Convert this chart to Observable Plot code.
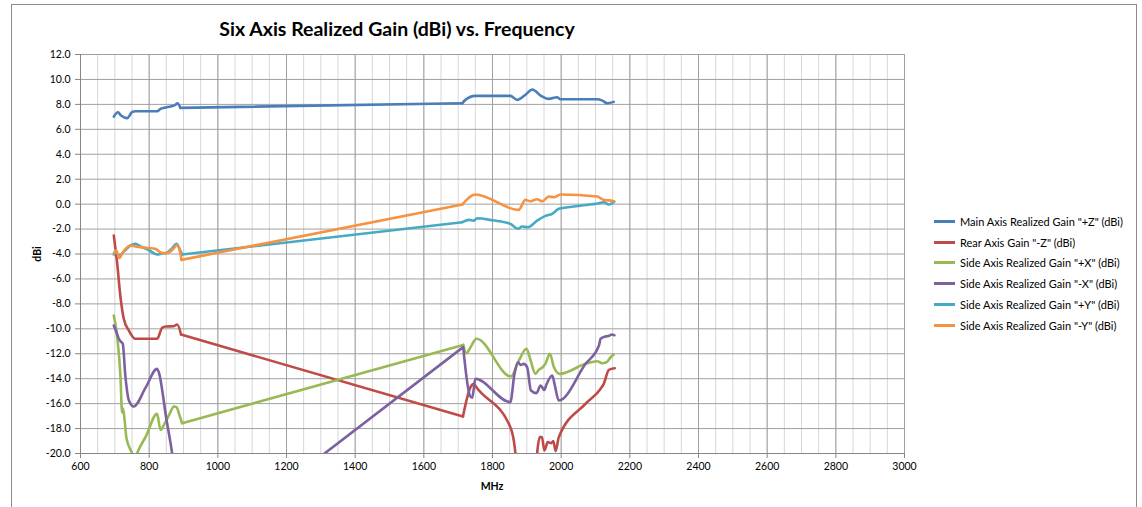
<!DOCTYPE html>
<html>
<head>
<meta charset="utf-8">
<script src="https://cdn.jsdelivr.net/npm/d3@7"></script>
<script src="https://cdn.jsdelivr.net/npm/@observablehq/plot@0.6"></script>
<style>
  body { margin: 0; background: #fff; }
  #wrap { position: relative; width: 1142px; height: 507px; overflow: hidden; font-family: Lato, "Open Sans", sans-serif; }
  #frame { position: absolute; left: 11px; top: 4px; width: 1126px; height: 540px; border: 1px solid #8c8c8c; box-sizing: border-box; }
  #chart { position: absolute; left: 0; top: 0; }
  #title { position: absolute; left: 0; width: 794px; top: 17px; text-align: center; font-weight: bold; font-size: 19.5px; color: #000; }
  #xlab { position: absolute; left: 392px; width: 200px; top: 480px; text-align: center; font-weight: bold; font-size: 10.5px; }
  #ylab { position: absolute; left: 37px; top: 254px; transform: translate(-50%,-50%) rotate(-90deg); font-weight: bold; font-size: 10.5px; }
  #legend { position: absolute; left: 934px; top: 211px; font-size: 11px; color: #000; }
  .row { height: 20.8px; display: flex; align-items: center; white-space: nowrap; }
  .sw { width: 21px; height: 3px; margin-right: 5px; }
</style>
</head>
<body>
<div id="wrap">
  <div id="frame"></div>
  <div id="chart"></div>
  <div id="title">Six Axis Realized Gain (dBi) vs. Frequency</div>
  <div id="xlab">MHz</div>
  <div id="ylab">dBi</div>
  <div id="legend"></div>
</div>
<script>
// ---- data (MHz, dBi) ----
const seriesNames = [
  'Main Axis Realized Gain "+Z" (dBi)',
  'Rear Axis Gain "-Z" (dBi)',
  'Side Axis Realized Gain "+X" (dBi)',
  'Side Axis Realized Gain "-X" (dBi)',
  'Side Axis Realized Gain "+Y" (dBi)',
  'Side Axis Realized Gain "-Y" (dBi)'
];
const seriesColors = ["#4A7EBB", "#BE4B48", "#98B954", "#7D60A0", "#46AAC5", "#F69240"];

const zPlusFreq = [697,709,718,736,750,760,790,823,833,848,862,876,882,891, 1712,1721,1750,1800,1852,1872,1895,1916,1940,1964,1988,1998,2050,2105,2120,2134,2153];
const zPlusGain = [7.02,7.37,7.1,6.9,7.37,7.45,7.45,7.45,7.64,7.75,7.83,7.95,8.09,7.72, 8.09,8.36,8.68,8.68,8.68,8.36,8.75,9.19,8.71,8.44,8.57,8.41,8.41,8.41,8.3,8.09,8.2];

const zMinusFreq = [697,707,716.5,726,741,760,790,823,838,848,872,881.6,893, 1714,1736,1746,1753,1852,1862,1867,1885,1905,1925,1930,1938,1944,1951,1961,1971,1977,1984,1993,2071,2115,2124,2139,2156];
const zMinusGain = [-2.52,-4.79,-7.47,-9.2,-10.14,-10.8,-10.8,-10.8,-9.92,-9.82,-9.79,-9.65,-10.46, -17.03,-14.68,-14.41,-14.68,-17.89,-18.96,-20.0,-23,-25,-22,-20.0,-18.69,-18.69,-19.76,-19.09,-19.17,-19.0,-19.81,-18.69,-16.01,-14.81,-14.41,-13.29,-13.16];

const xPlusFreq = [697,707,716.5,721,724,728,734,750,757,765,790,823,833,845,860,872,880,888,896, 1714.6,1724,1736,1753,1854,1877,1899,1911,1925,1935,1945,1954,1967,1979,1996,2071,2105,2119,2132,2144,2153];
const xPlusGain = [-8.93,-10.67,-13.88,-16.7,-16.4,-17.2,-18.8,-19.97,-20.6,-19.97,-18.65,-16.82,-18.1,-17.6,-16.8,-16.23,-16.3,-16.9,-17.57, -11.29,-11.96,-11.47,-10.8,-13.82,-12.54,-11.6,-12.54,-13.61,-13.29,-13.1,-12.81,-12.0,-13.08,-13.61,-12.81,-12.6,-12.76,-12.68,-12.28,-12.06];

const xMinusFreq = [697,705,711.6,719,723,731,741,755,790,823,828,850,867,880,894, 1714.6,1734,1741,1750,1852,1864,1874,1882,1891,1901,1912,1928,1940,1951,1957,1974,1982,1993,2071,2110,2115,2129,2140,2148,2155];
const xMinusGain = [-9.74,-10.3,-10.8,-11.07,-11.2,-13.88,-15.75,-16.23,-14.7,-13.21,-13.48,-17.2,-20.02,-23,-28.8, -11.47,-15.35,-15.53,-14.01,-15.88,-13.61,-12.68,-12.9,-12.81,-13.08,-14.95,-15.16,-14.55,-14.9,-14.47,-13.74,-14.6,-15.75,-12.81,-11.34,-10.8,-10.62,-10.55,-10.46,-10.51];

const yPlusFreq = [697,703,713,730,746,760,775,800,823,838,850,865,880,887,896, 1712,1731,1746,1755,1800,1852,1874,1886,1903,1930,1954,1974,1993,2050,2110,2124,2139,2155];
const yPlusGain = [-4.04,-3.9,-4.1,-3.7,-3.3,-3.19,-3.4,-3.7,-4.04,-3.95,-3.92,-3.6,-3.19,-3.5,-4.04, -1.45,-1.26,-1.32,-1.13,-1.3,-1.58,-1.98,-1.8,-1.85,-1.32,-0.94,-0.78,-0.38,-0.15,0.07,0.15,-0.03,0.21];

const yMinusFreq = [697,704,713,725,746,760,790,818,838,855,870,880,888,894, 1712,1750,1876,1896,1910,1930,1945,1964,1979,1998,2105,2124,2139,2153];
const yMinusGain = [-3.94,-3.7,-4.31,-3.8,-3.32,-3.4,-3.5,-3.59,-3.93,-3.9,-3.6,-3.3,-3.6,-4.47, -0.03,0.77,-0.46,0.34,0.23,0.39,0.23,0.61,0.55,0.77,0.61,0.34,0.3,0.23];

const xTicks = [600,800,1000,1200,1400,1600,1800,2000,2200,2400,2600,2800,3000];
const yTicks = [-20,-18,-16,-14,-12,-10,-8,-6,-4,-2,0,2,4,6,8,10,12];
const bandSplit = 1300; // MHz: separates the low band from the high band (no data between)

// ---- build tidy tables ----
const pairs = [[zPlusFreq,zPlusGain],[zMinusFreq,zMinusGain],[xPlusFreq,xPlusGain],[xMinusFreq,xMinusGain],[yPlusFreq,yPlusGain],[yMinusFreq,yMinusGain]];
const rows = [];
const bridge = [];
pairs.forEach(([f,g],i) => {
  f.forEach((fv,j) => rows.push({series: seriesNames[i], band: seriesNames[i] + (fv < bandSplit ? "|lo" : "|hi"), freq: fv, gain: g[j]}));
  const k = f.findIndex(v => v > bandSplit);
  bridge.push({series: seriesNames[i], freq: f[k-1], gain: g[k-1]});
  bridge.push({series: seriesNames[i], freq: f[k], gain: g[k]});
});

const minorX = d3.range(600, 3001, 50);
const tickFont = 10.5;

const chart = Plot.plot({
  width: 1142, height: 507,
  marginLeft: 80, marginRight: 238, marginTop: 54, marginBottom: 54,
  style: {fontFamily: "Lato, 'Open Sans', sans-serif", fontSize: tickFont + "px", color: "#000", background: "transparent"},
  x: {type: "linear", domain: [600, 3000]},
  y: {type: "linear", domain: [-20, 12]},
  color: {domain: seriesNames, range: seriesColors},
  marks: [
    Plot.gridX(minorX, {stroke: "#d6d6d6", strokeOpacity: 1}),
    Plot.gridX(xTicks, {stroke: "#a0a0a0", strokeOpacity: 1}),
    Plot.gridY(yTicks, {stroke: "#a0a0a0", strokeOpacity: 1}),
    Plot.axisX(xTicks, {tickSize: 5, tickPadding: 4, tickFormat: d => String(d), label: null, stroke: "#868686", fontSize: tickFont}),
    Plot.axisY(yTicks, {tickSize: 5, tickPadding: 5, tickFormat: d => d.toFixed(1), label: null, stroke: "#868686", fontSize: tickFont}),
    Plot.ruleX([600], {stroke: "#868686"}),
    Plot.ruleY([-20], {stroke: "#868686"}),
    Plot.line(bridge, {x: "freq", y: "gain", z: "series", stroke: "series", strokeWidth: 2.6, curve: "linear", clip: true}),
    Plot.line(rows, {x: "freq", y: "gain", z: "band", stroke: "series", strokeWidth: 2.6, curve: "monotone-x", clip: true})
  ]
});
document.getElementById("chart").appendChild(chart);

// ---- legend ----
const leg = document.getElementById("legend");
seriesNames.forEach((n,i) => {
  const r = document.createElement("div"); r.className = "row";
  const s = document.createElement("div"); s.className = "sw"; s.style.background = seriesColors[i];
  const t = document.createElement("span"); t.textContent = n;
  r.appendChild(s); r.appendChild(t); leg.appendChild(r);
});
</script>
</body>
</html>
